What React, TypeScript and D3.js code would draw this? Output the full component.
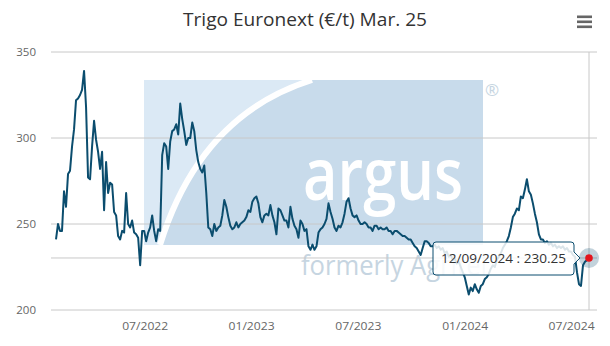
import React from "react";
import * as d3 from "d3";

// Daily settlement prices (€/t), ordinal axis (equal spacing per point)
const pricesEarly2022 = [
  241, 250, 246, 246, 269, 260, 279, 281, 295, 305, 322, 323, 325, 328, 339, 318,
  277, 276, 295, 310, 299, 292, 282, 292, 258, 286, 268, 274, 273, 257, 255, 243,
  241, 246, 245, 268, 250, 248, 252, 245, 244, 242, 226, 246, 246, 240, 245, 248,
  255, 246, 240, 247, 246,
];
const pricesLate2022 = [
  290, 297, 295, 282, 298, 304, 305, 308, 302, 320, 311, 304, 296, 300, 300, 309,
  304, 293, 286, 282, 280, 284, 268, 248, 247, 243, 250, 246, 248, 249, 255, 264,
  260, 254, 249, 247, 248, 251, 248, 250, 251, 252, 254, 258, 257, 263, 265, 266,
  262, 254, 251, 255, 256,
];
const prices2023 = [
  255, 261, 255, 251, 244, 259, 258, 255, 252, 252, 248, 260, 253, 249, 247, 242,
  252, 250, 246, 247, 237, 235, 238, 235, 237, 245, 247, 248, 250, 253, 262, 257,
  253, 248, 246, 249, 248, 251, 256, 263, 265, 259, 255, 254, 255, 252, 250, 250,
  251, 250, 248, 248, 246, 249, 249, 247, 248, 247, 247, 248, 246, 246, 244, 246,
  246, 245, 244, 243, 243, 242, 241, 241, 239, 237, 236, 234, 232, 236, 240, 240,
  239, 237, 237,
];
const prices2024 = [
  238, 236, 237, 235, 236, 233, 234, 231, 232, 229, 230, 227, 228, 225, 222, 219,
  214, 209, 213, 211, 215, 212, 210, 214, 215, 218, 219, 221, 224, 226, 225, 229,
  231, 233, 236, 238, 240, 243, 248, 254, 256, 259, 258, 266, 265, 270, 276, 269,
  267, 262, 256, 251, 244, 241, 241, 239, 240, 238, 239, 237, 238, 236, 237, 236,
  237, 235, 236, 234, 234, 232, 231, 222, 215, 214, 226, 228, 229, 230.25,
];
const prices = [...pricesEarly2022, ...pricesLate2022, ...prices2023, ...prices2024];

const yTicks = [200, 250, 300, 350];
const xTickLabels = ["07/2022", "01/2023", "07/2023", "01/2024", "07/2024"];
const xTickIndex = [44.5, 97.6, 150.9, 204.2, 257.3];

const titleText = "Trigo Euronext (€/t) Mar. 25";
const tooltipDate = "12/09/2024";
const tooltipValue = 230.25;

const SERIES = "#0b4d6e";
const GRID = "#c8c8c8";
const FONT = "'Open Sans', 'DejaVu Sans', sans-serif";

export default function App() {
  const W = 610;
  const H = 346;
  const left = 51;
  const right = 597;
  const x = d3.scaleLinear().domain([0, prices.length - 1]).range([56, 589]);
  const y = d3.scaleLinear().domain([200, 350]).range([310, 52]);
  const line = d3
    .line<number>()
    .x((_, i) => x(i))
    .y((d) => y(d));

  const lastIdx = prices.length - 1;
  const px = x(lastIdx);
  const py = y(tooltipValue);

  // tooltip callout
  const tl = 433, tr = 574, tt = 242, tb = 275, r = 3;
  const tipX = 580;
  const tipY = py;
  const callout = `M ${tl + r} ${tt} L ${tr - r} ${tt} Q ${tr} ${tt} ${tr} ${tt + r}
    L ${tr} ${tipY - 6} L ${tipX} ${tipY} L ${tr} ${tipY + 6}
    L ${tr} ${tb - r} Q ${tr} ${tb} ${tr - r} ${tb} L ${tl + r} ${tb}
    Q ${tl} ${tb} ${tl} ${tb - r} L ${tl} ${tt + r} Q ${tl} ${tt} ${tl + r} ${tt} Z`;

  // watermark geometry
  const wx0 = 144, wx1 = 483, wy0 = 80, wy1 = 245;
  const arc = `M 160 ${wy1} Q 200 115 312 ${wy0}`;
  const darkArea = `M 160 ${wy1} Q 200 115 312 ${wy0} L ${wx1} ${wy0} L ${wx1} ${wy1} Z`;

  return (
    <svg
      width={W}
      height={H}
      style={{ position: "absolute", left: 0, top: 0, background: "#fff" }}
      fontFamily={FONT}
    >
      <rect x={0} y={0} width={W} height={H} fill="#fff" />

      {/* title */}
      <text x={305} y={26} textAnchor="middle" fontSize={18} fill="#333" textLength={244} lengthAdjust="spacingAndGlyphs">
        {titleText}
      </text>

      {/* menu icon */}
      {[0, 1, 2].map((k) => (
        <rect key={k} x={577} y={15.5 + k * 5} width={15} height={2.6} fill="#666" />
      ))}

      {/* watermark */}
      <g>
        <rect x={wx0} y={wy0} width={wx1 - wx0} height={wy1 - wy0} fill="#dbe9f5" />
        <path d={darkArea} fill="#c8dbeb" />
        <clipPath id="wm">
          <rect x={wx0} y={wy0} width={wx1 - wx0} height={wy1 - wy0} />
        </clipPath>
        <path d={arc} fill="none" stroke="#fff" strokeWidth={6} clipPath="url(#wm)" />
        <text x={303} y={200} fontSize={72} fontWeight={600} fill="#fff" textLength={160} lengthAdjust="spacingAndGlyphs">
          argus
        </text>
        <text x={301} y={275} fontSize={28} fill="#c6d5e1" textLength={186} lengthAdjust="spacingAndGlyphs">
          formerly Agritel
        </text>
        <text x={492} y={96} fontSize={17} fill="#c6d5e1" textAnchor="middle">
          ®
        </text>
      </g>

      {/* grid */}
      {yTicks.map((t) => (
        <g key={t}>
          <line x1={left} x2={right} y1={y(t)} y2={y(t)} stroke={GRID} strokeWidth={1} />
          <text x={36} y={y(t) + 4} textAnchor="end" fontSize={11.5} fill="#666">
            {t}
          </text>
        </g>
      ))}

      {/* x labels */}
      {xTickLabels.map((lab, i) => (
        <text key={lab} x={x(xTickIndex[i])} y={330} textAnchor="middle" fontSize={11.5} fill="#666" textLength={46} lengthAdjust="spacingAndGlyphs">
          {lab}
        </text>
      ))}

      {/* crosshairs */}
      <line x1={left} x2={right} y1={py} y2={py} stroke={GRID} strokeWidth={1} />
      <line x1={px} x2={px} y1={y(350)} y2={y(200)} stroke={GRID} strokeWidth={1} />

      {/* series */}
      <path d={line(prices) || ""} fill="none" stroke={SERIES} strokeWidth={2} strokeLinejoin="round" />

      {/* hover marker */}
      <circle cx={px} cy={py} r={10} fill={SERIES} fillOpacity={0.25} />
      <circle cx={px} cy={py} r={3.8} fill="#e4141c" />

      {/* tooltip */}
      <path d={callout} fill="#fff" fillOpacity={0.85} stroke={SERIES} strokeWidth={1} />
      <text x={441} y={263} fontSize={12} fill="#333" textLength={125} lengthAdjust="spacingAndGlyphs">
        {`${tooltipDate} : ${tooltipValue}`}
      </text>
    </svg>
  );
}
